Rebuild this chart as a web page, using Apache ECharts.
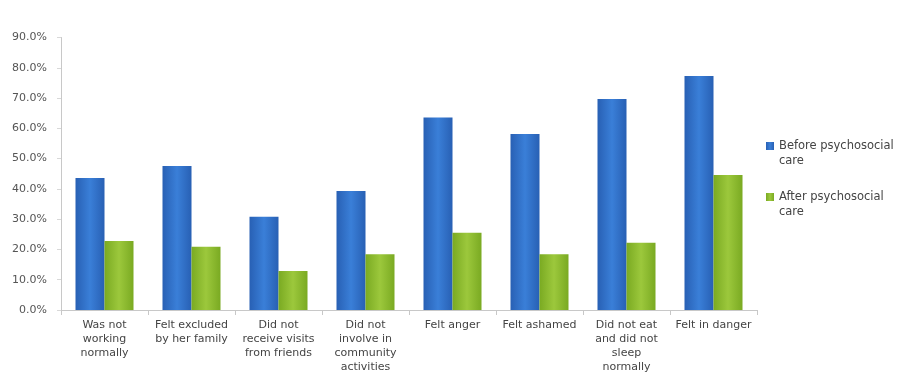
<!DOCTYPE html>
<html><head><meta charset="utf-8">
<script src="https://cdn.jsdelivr.net/npm/echarts@6/dist/echarts.min.js"></script>
<style>html,body{margin:0;padding:0;background:#fff}#c{width:918px;height:378px}</style>
</head><body><div id="c"></div>
<script>
var categories = ["Was not\nworking\nnormally", "Felt excluded\nby her family", "Did not\nreceive visits\nfrom friends", "Did not\ninvolve in\ncommunity\nactivities", "Felt anger", "Felt ashamed", "Did not eat\nand did not\nsleep\nnormally", "Felt in danger"];
var seriesNames = ["Before psychosocial care", "After psychosocial care"];
var beforeCare = [43.6, 47.6, 30.8, 39.3, 63.6, 58.1, 69.7, 77.3];
var afterCare = [22.8, 20.9, 12.9, 18.4, 25.5, 18.4, 22.2, 44.6];
var yTicks = [0, 10, 20, 30, 40, 50, 60, 70, 80, 90];

function grad(edge, mid) {
  return new echarts.graphic.LinearGradient(0, 0, 1, 0, [
    {offset: 0, color: edge}, {offset: 0.5, color: mid}, {offset: 1, color: edge}
  ]);
}
var chart = echarts.init(document.getElementById('c'), null, {renderer: 'canvas'});
var font = 'DejaVu Sans';
chart.setOption({
  animation: false,
  backgroundColor: '#fff',
  grid: {left: 61, right: 161, top: 37.5, bottom: 68, containLabel: false},
  legend: {
    orient: 'vertical', left: 766, top: 123.5, itemWidth: 8, itemHeight: 8, itemGap: 6,
    icon: 'rect', padding: 0,
    formatter: function (n) { return '\u00a0\n' + n.replace(' care', '\ncare'); },
    textStyle: {fontFamily: font, fontSize: 11.5, color: '#444', lineHeight: 15},
    data: seriesNames
  },
  xAxis: {
    type: 'category', data: categories,
    axisLine: {lineStyle: {color: '#c8c8c8'}},
    axisTick: {show: true, length: 5, lineStyle: {color: '#c8c8c8'}},
    axisLabel: {fontFamily: font, fontSize: 11, color: '#444', lineHeight: 14, interval: 0, margin: 8}
  },
  yAxis: {
    type: 'value', min: yTicks[0], max: yTicks[yTicks.length - 1], interval: 10,
    axisLine: {show: true, lineStyle: {color: '#c8c8c8'}},
    axisTick: {show: true, length: 4, lineStyle: {color: '#d8d8d8'}},
    splitLine: {show: false},
    axisLabel: {fontFamily: font, fontSize: 11, color: '#555', margin: 14,
      formatter: function (v) { return v.toFixed(1) + '%'; }}
  },
  series: [
    {name: seriesNames[0], type: 'bar', data: beforeCare, barWidth: 29, barGap: '0%',
      itemStyle: {color: grad('#2860b4', '#3a7fd8')}},
    {name: seriesNames[1], type: 'bar', data: afterCare, barWidth: 29,
      itemStyle: {color: grad('#7aaa22', '#9cc83c')}}
  ]
});
</script></body></html>
